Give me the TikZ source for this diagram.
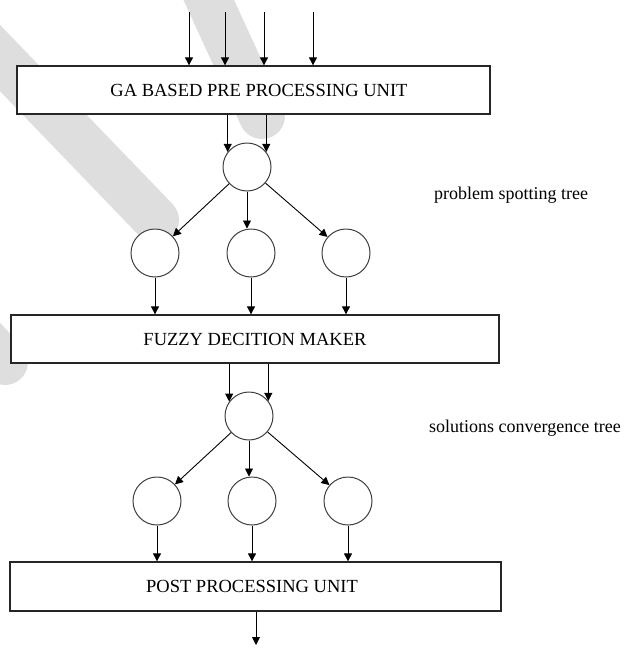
\documentclass[tikz,border=0pt]{standalone}
\usepackage{fontspec}
\setmainfont{Liberation Serif}
\usetikzlibrary{arrows.meta}
\begin{document}
\begin{tikzpicture}[x=1pt,y=-1pt,
  arr/.style={draw=black, line width=0.9pt, -{Triangle[length=8pt,width=8pt]}},
  unitbox/.style={draw=black!85, line width=1.3pt, fill=white, minimum height=48pt, inner sep=0pt, font=\fontsize{18.5}{22}\selectfont},
  tnode/.style={circle, draw=black!75, line width=1pt, fill=white, minimum size=48pt, inner sep=0pt},
  lbl/.style={font=\fontsize{18}{22}\selectfont, inner sep=0pt},
  wm/.style={draw=black!13, line width=46pt, line cap=round}]
\useasboundingbox (0,0) rectangle (634,648);
% watermark stripes
\draw[wm] (-80,-25) -- (156,220);
\draw[wm] (195,-30) -- (262,116);
\draw[wm] (-80,270) -- (5,362);

% boxes
\node[unitbox, minimum width=473pt] (box1) at (253.5,90) {\hspace*{11pt}GA BASED PRE PROCESSING UNIT};
\node[unitbox, minimum width=488pt] (box2) at (255,339) {FUZZY DECITION MAKER};
\node[unitbox, minimum width=491pt, minimum height=49pt] (box3) at (255.5,586.5) {POST PROCESSING UNIT\hspace*{7pt}};

% first tree
\node[tnode] (p1) at (247,167) {};
\node[tnode] (c1) at (155,253) {};
\node[tnode] (c2) at (251,253) {};
\node[tnode] (c3) at (346,253) {};

% second tree
\node[tnode] (p2) at (249,416) {};
\node[tnode] (d1) at (157,501) {};
\node[tnode] (d2) at (252,501) {};
\node[tnode] (d3) at (348,501) {};

% labels
\node[lbl] (l1) at (511,195) {problem spotting tree};
\node[lbl] (l2) at (525,428) {solutions convergence tree};

% inputs
\coordinate (i1) at (189,12);
\coordinate (i2) at (225,12);
\coordinate (i3) at (264,12);
\coordinate (i4) at (313,12);
\foreach \i in {i1,i2,i3,i4}{\draw[arr] (\i) -- (\i |- box1.north);}

% box1 -> p1
\draw[arr] (box1.south -| p1.142) -- (p1.142);
\draw[arr] (box1.south -| p1.38) -- (p1.38);
% p1 -> children
\draw[arr] (p1) -- (c1);
\draw[arr] (p1.south) -- (p1.south |- c2.north);
\draw[arr] (p1) -- (c3);
% children -> box2
\draw[arr] (c1.south) -- (c1.south |- box2.north);
\draw[arr] (c2.south) -- (c2.south |- box2.north);
\draw[arr] (c3.south) -- (c3.south |- box2.north);

% box2 -> p2
\draw[arr] (box2.south -| p2.144) -- (p2.144);
\draw[arr] (box2.south -| p2.38) -- (p2.38);
% p2 -> children
\draw[arr] (p2) -- (d1);
\draw[arr] (p2.south) -- (p2.south |- d2.north);
\draw[arr] (p2) -- (d3);
% children -> box3
\draw[arr] (d1.south) -- (d1.south |- box3.north);
\draw[arr] (d2.south) -- (d2.south |- box3.north);
\draw[arr] (d3.south) -- (d3.south |- box3.north);

% output
\coordinate (o1) at (256,645);
\draw[arr] (box3.south -| o1) -- (o1);
\end{tikzpicture}
\end{document}
